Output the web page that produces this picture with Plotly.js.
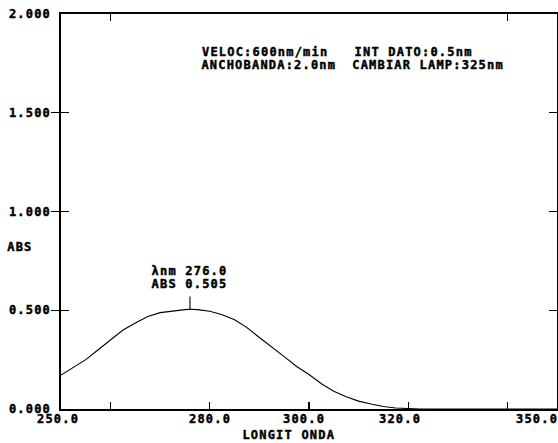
<!DOCTYPE html>
<html>
<head>
<meta charset="utf-8">
<script src="https://cdn.plot.ly/plotly-3.0.1.min.js"></script>
<style>
  html, body { margin: 0; padding: 0; background: #fff; }
  #chart { width: 558px; height: 443px; }
  #chart text { letter-spacing: 1.2px; font-weight: bold !important; stroke: #000; stroke-width: 0.45px; }
</style>
</head>
<body>
<div id="chart"></div>
<script>
// Spectrum data (wavelength nm, absorbance)
const wavelength = [250, 252.5, 255, 257.5, 260, 262.5, 265, 267.5, 270, 272.5, 275, 276,
  277.5, 280, 282.5, 285, 287.5, 290, 292.5, 295, 297.5, 300, 302.5, 305, 307.5, 310,
  312.5, 315, 317.5, 320, 322.5, 325, 330, 335, 340, 345, 350];
const absorbance = [0.172, 0.212, 0.250, 0.300, 0.352, 0.400, 0.435, 0.468, 0.488, 0.497, 0.503, 0.505,
  0.503, 0.495, 0.477, 0.452, 0.412, 0.362, 0.315, 0.265, 0.215, 0.175, 0.128, 0.090, 0.062, 0.040,
  0.025, 0.013, 0.005, 0.002, 0, 0, 0, 0, 0, 0, 0];

// Peak marker
const peakWl = 276.0;
const peakAbs = 0.505;
const peakLabels = ["\u03bbnm 276.0", "ABS 0.505"];

// Axis ticks and labels
const xTickMarks = [260, 280, 300, 320, 340];
const xTopTickMarks = [260, 340];
const xLabelVals = [250, 280, 300, 320, 350];
const xLabelText = ["250.0", "280.0", "300.0", "320.0", "350.0"];
const yTickVals = [0, 0.5, 1.0, 1.5, 2.0];
const yTickText = ["0.000", "0.500", "1.000", "1.500", "2.000"];

// Header text (two columns, two rows)
const headerCol1 = ["VELOC:600nm/min", "ANCHOBANDA:2.0nm"];
const headerCol2 = ["INT DATO:0.5nm", "CAMBIAR LAMP:325nm"];
const xTitle = "LONGIT ONDA";
const yTitle = "ABS";

const font = { family: "DejaVu Sans Mono", size: 12, weight: "bold", color: "#000" };

const traces = [
  {
    x: wavelength, y: absorbance, type: "scatter", mode: "lines",
    line: { color: "#000", width: 1.1 }, hoverinfo: "skip", showlegend: false
  },
  {
    x: [peakWl, peakWl], y: [peakAbs, peakAbs + 0.065], type: "scatter", mode: "lines",
    line: { color: "#000", width: 1.1 }, hoverinfo: "skip", showlegend: false
  },
  {
    x: [wavelength[0]], y: [absorbance[0]], xaxis: "x2", type: "scatter", mode: "lines",
    hoverinfo: "skip", showlegend: false
  }
];

const annotations = [];
xLabelVals.forEach((v, i) => {
  const last = i === xLabelVals.length - 1;
  annotations.push({
    x: v, y: 0, xref: "x", yref: "y", text: xLabelText[i], showarrow: false,
    xanchor: last ? "right" : "center", yanchor: "top", yshift: -1,
    xshift: (i === 0 ? -3 : (i === 2 ? -5 : (i === 3 ? -8 : 0))), font: font
  });
});
peakLabels.forEach((t, i) => {
  annotations.push({
    x: peakWl, y: peakAbs, xref: "x", yref: "y", text: t, showarrow: false,
    xanchor: "center", yanchor: "middle", yshift: 38 - 13 * i, font: font
  });
});
headerCol1.forEach((t, i) => {
  annotations.push({
    x: 0, y: 1, xref: "paper", yref: "paper", text: t, showarrow: false,
    xanchor: "left", yanchor: "middle", xshift: 148, yshift: -38 - 12.5 * i, font: font
  });
});
headerCol2.forEach((t, i) => {
  annotations.push({
    x: 0, y: 1, xref: "paper", yref: "paper", text: t, showarrow: false,
    xanchor: "left", yanchor: "middle", xshift: 300, yshift: -38 - 12.5 * i, font: font
  });
});
annotations.push({
  x: 296, y: 0, xref: "x", yref: "y", text: xTitle, showarrow: false,
  xanchor: "center", yanchor: "top", yshift: -17, font: font
});
annotations.push({
  x: 0, y: 0.82, xref: "paper", yref: "y", text: yTitle, showarrow: false,
  xanchor: "left", yanchor: "middle", xshift: -54, font: font
});

const layout = {
  width: 558, height: 443,
  margin: { l: 61, r: 1, t: 14, b: 34, pad: 0 },
  paper_bgcolor: "#fff", plot_bgcolor: "#fff",
  showlegend: false,
  font: font,
  xaxis: {
    range: [250, 350], tickvals: xTickMarks, ticks: "inside", ticklen: 7,
    tickwidth: 1.2, tickcolor: "#000", showticklabels: false,
    showgrid: false, zeroline: false, showline: true, linecolor: "#000",
    linewidth: 1.6, mirror: true
  },
  xaxis2: {
    overlaying: "x", side: "top", range: [250, 350], tickvals: xTopTickMarks,
    ticks: "inside", ticklen: 7, tickwidth: 1.2, tickcolor: "#000",
    showticklabels: false, showgrid: false, zeroline: false, showline: false
  },
  yaxis: {
    range: [0, 2], tickvals: yTickVals, ticktext: yTickText, ticks: "inside",
    ticklen: 8, tickwidth: 1.2, tickcolor: "#000", ticklabelstandoff: 6,
    showgrid: false, zeroline: false, showline: true, linecolor: "#000",
    linewidth: 1.6, mirror: "allticks", tickfont: font
  },
  annotations: annotations
};

Plotly.newPlot("chart", traces, layout, { staticPlot: true, displayModeBar: false });
</script>
</body>
</html>
